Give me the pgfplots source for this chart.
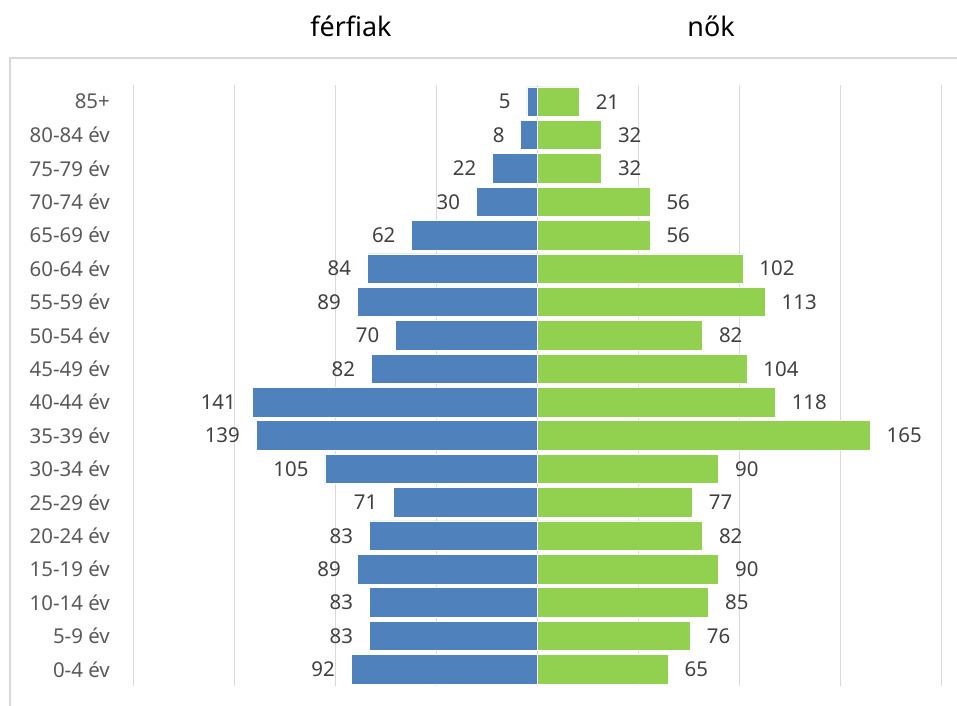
\documentclass[border=0pt]{standalone}
\usepackage{fontspec}
\setmainfont{Noto Sans}
\usepackage{pgfplots}
\pgfplotsset{compat=1.18}
\definecolor{male}{HTML}{4F81BD}
\definecolor{female}{HTML}{92D050}
\definecolor{gridc}{HTML}{D9D9D9}
\definecolor{lbl}{HTML}{404040}
\definecolor{tlbl}{HTML}{595959}
\begin{document}
\begin{tikzpicture}[x=1bp,y=1bp]
\path[use as bounding box] (0,0) rectangle (957,706);
\draw[gridc, line width=1.5bp] (10,-5) -- (10,648) -- (965,648);
\node[anchor=base, font=\fontsize{27}{32}\selectfont] at (351,669) {férfiak};
\node[anchor=base, font=\fontsize{27}{32}\selectfont] at (711,669) {nők};
\begin{axis}[
  at={(133bp,20bp)}, anchor=south west,
  scale only axis, width=808bp, height=601bp,
  xmin=-200, xmax=200, ymin=-0.5, ymax=17.5,
  xbar, bar shift=0pt, bar width=29.5bp,
  xtick={-200,-150,...,200}, xticklabels={},
  xmajorgrids, grid style={gridc, line width=1bp},
  major tick length=0pt,
  ytick={0,...,17},
  yticklabels={0-4 év,5-9 év,10-14 év,15-19 év,20-24 év,25-29 év,30-34 év,35-39 év,40-44 év,45-49 év,50-54 év,55-59 év,60-64 év,65-69 év,70-74 év,75-79 év,80-84 év,85+},
  yticklabel style={font=\fontsize{20.5}{24}\selectfont, text=tlbl, anchor=east, inner sep=0pt, xshift=-23bp},
  axis line style={draw=none},
  clip=false,
  nodes near coords, point meta=explicit symbolic,
  nodes near coords style={font=\fontsize{20.5}{24}\selectfont, text=lbl, inner sep=0pt},
]
\addplot[fill=male, draw=white, line width=0.75bp,
  every node near coord/.append style={anchor=east, xshift=-16bp}]
coordinates {(-92,0)[92] (-83,1)[83] (-83,2)[83] (-89,3)[89] (-83,4)[83] (-71,5)[71] (-105,6)[105] (-139,7)[139] (-141,8)[141] (-82,9)[82] (-70,10)[70] (-89,11)[89] (-84,12)[84] (-62,13)[62] (-30,14)[30] (-22,15)[22] (-8,16)[8] (-5,17)[5]};
\addplot[fill=female, draw=white, line width=0.75bp,
  every node near coord/.append style={anchor=west, xshift=16bp}]
coordinates {(65,0)[65] (76,1)[76] (85,2)[85] (90,3)[90] (82,4)[82] (77,5)[77] (90,6)[90] (165,7)[165] (118,8)[118] (104,9)[104] (82,10)[82] (113,11)[113] (102,12)[102] (56,13)[56] (56,14)[56] (32,15)[32] (32,16)[32] (21,17)[21]};
\end{axis}
\end{tikzpicture}
\end{document}
